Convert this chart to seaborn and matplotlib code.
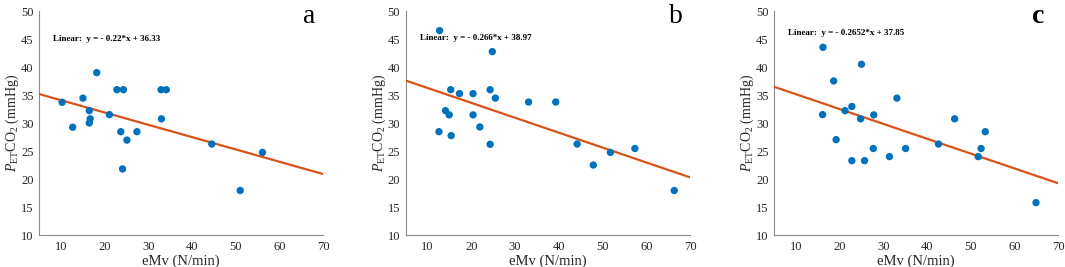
import numpy as np
import pandas as pd
import matplotlib
matplotlib.use("Agg")
import matplotlib.pyplot as plt
import seaborn as sns

# ---------------- data ----------------
a_x = [10.3, 12.7, 15.05, 18.2, 16.5, 16.7, 16.5, 21.1, 22.8, 24.3, 23.7, 27.4, 25.1, 24.1, 32.9, 34.1, 33.0, 44.5, 56.1, 51.0]
a_y = [33.75, 29.3, 34.5, 39.05, 32.26, 30.8, 30.06, 31.55, 36.0, 36.0, 28.5, 28.5, 27.0, 21.85, 36.0, 36.0, 30.8, 26.3, 24.8, 18.0]

b_x = [12.75, 24.8, 15.3, 17.3, 20.4, 24.3, 25.5, 33.1, 14.1, 14.95, 20.4, 21.95, 12.6, 15.4, 24.3, 39.3, 44.2, 47.9, 51.8, 57.4, 66.4]
b_y = [46.55, 42.8, 36.0, 35.3, 35.3, 36.0, 34.5, 33.8, 32.26, 31.5, 31.5, 29.35, 28.5, 27.8, 26.25, 33.8, 26.3, 22.55, 24.8, 25.5, 18.0]

c_x = [16.2, 25.0, 18.65, 33.1, 22.8, 21.25, 16.1, 27.8, 24.8, 19.2, 27.7, 35.1, 31.4, 22.8, 25.7, 46.3, 53.3, 42.6, 52.35, 51.7, 64.9]
c_y = [43.57, 40.54, 37.56, 34.5, 33.0, 32.26, 31.55, 31.5, 30.8, 27.08, 25.5, 25.5, 24.05, 23.33, 23.33, 30.8, 28.5, 26.3, 25.5, 24.05, 15.83]

slopes = [-0.22, -0.266, -0.2652]
intercepts = [36.33, 38.97, 37.85]
eq_labels = ["Linear:  y = - 0.22*x + 36.33",
             "Linear:  y = - 0.266*x + 38.97",
             "Linear:  y = - 0.2652*x + 37.85"]
panel_letters = ["a", "b", "c"]
fit_range = [5, 70]
x_ticks = [10, 20, 30, 40, 50, 60, 70]
y_ticks = [10, 15, 20, 25, 30, 35, 40, 45, 50]

# ---------------- style ----------------
sns.set_theme(style="white")
plt.rcParams['font.family'] = ['Liberation Serif', 'DejaVu Serif']
plt.rcParams['mathtext.fontset'] = 'custom'
plt.rcParams['mathtext.rm'] = 'Liberation Serif'
plt.rcParams['mathtext.it'] = 'Liberation Serif:italic'
plt.rcParams['mathtext.bf'] = 'Liberation Serif:bold'

W, H = 1065, 267
fig = plt.figure(figsize=(W / 100, H / 100), dpi=100)

lefts = [39, 405.7, 774]
ax_w = 284.3
top_px, bot_px = 11.3, 235.3

data = [(a_x, a_y), (b_x, b_y), (c_x, c_y)]
dot_color = "#0072BD"
line_color = "#D95319"

for i in range(3):
    ax = fig.add_axes([lefts[i] / W, (H - bot_px) / H, ax_w / W, (bot_px - top_px) / H])
    xs, ys = data[i]
    df = pd.DataFrame({"x": xs, "y": ys})
    fx = np.array(fit_range, dtype=float)
    fdf = pd.DataFrame({"x": fx, "y": slopes[i] * fx + intercepts[i]})
    sns.lineplot(data=fdf, x="x", y="y", ax=ax, color=line_color, linewidth=1.6, zorder=3)
    sns.scatterplot(data=df, x="x", y="y", ax=ax, color=dot_color, s=28, edgecolor="none", zorder=4)

    ax.set_xlim(5, 70)
    ax.set_ylim(10, 50)
    ax.set_xticks(x_ticks)
    ax.set_yticks(y_ticks)
    for s in ["top", "right"]:
        ax.spines[s].set_visible(False)
    for s in ["left", "bottom"]:
        ax.spines[s].set_color("#8c8c8c")
        ax.spines[s].set_linewidth(0.8)
    ax.tick_params(axis="both", direction="in", length=3, width=0.6, color="#8c8c8c",
                   labelsize=9, labelcolor="#262626", pad=4)
    ax.set_xlabel("eMv (N/min)", fontsize=10.5, color="#262626", labelpad=1.5)
    ax.set_ylabel(r"$\mathit{P}_{\mathrm{ET}}\mathrm{CO}_{2}$ (mmHg)", fontsize=10,
                  color="#262626", labelpad=0)
    ax.text(8.27, [45.06, 45.3, 46.07][i], eq_labels[i], fontsize=6.5, fontweight="bold",
            va="center", ha="left", color="black")
    ax.text([0.95, 0.95, 0.93][i], 0.975, panel_letters[i], transform=ax.transAxes,
            fontsize=20, ha="center", va="center", color="black",
            fontweight="bold" if i == 2 else "normal")

fig.savefig("out.png", dpi=100)
